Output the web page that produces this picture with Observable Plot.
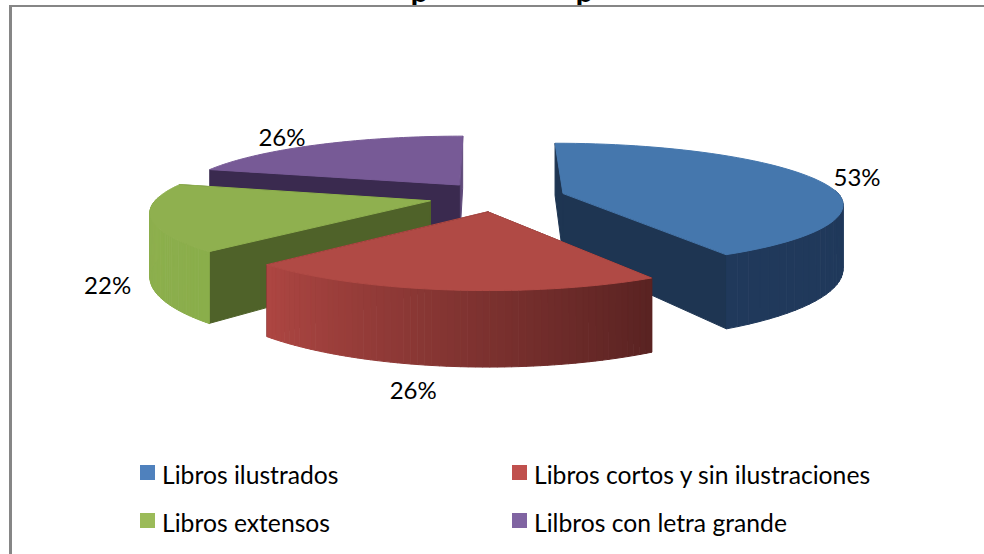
<!DOCTYPE html>
<html><head><meta charset="utf-8">
<script src="https://cdn.jsdelivr.net/npm/d3@7"></script>
<script src="https://cdn.jsdelivr.net/npm/@observablehq/plot@0.6"></script>
<style>
html,body{margin:0;padding:0;background:#fff;width:984px;height:554px;overflow:hidden}
#frame{position:absolute;left:9px;top:5px;right:0;bottom:0;border-left:3px solid #868686;border-top:2px solid #868686;pointer-events:none}
#chart{position:absolute;left:0;top:0}
#chart svg{display:block;background:transparent}
#legend{position:absolute;left:0;top:450px;width:984px;height:104px;font:24.7px Lato,sans-serif;color:#000}
.it{position:absolute;white-space:nowrap;line-height:28px}
.it i{position:absolute;left:-22px;top:4px;width:15px;height:15px}
</style></head><body>
<div id="chart"></div><div id="frame"></div><div id="legend"></div>
<script>
const categories = ["Libros ilustrados","Libros cortos y sin ilustraciones","Libros extensos","Lilbros con letra grande"];
const values = [53,26,22,26];
const topColors = ["#4577ad","#b04a45","#8fb04f","#775a96"];
const startWallColors = ["#1e3552","#5a2322","#4f6229","#3a2a4f"];
const endWallColors = ["#1e3552","#5a2322","#4f6229","#5f4a7a"];
const rimFrom = ["#1f3a5c","#5a2322","#8aae4b","#5f4a7a"];
const rimTo = ["#20395b","#ad4642","#8fb04f","#5f4a7a"];
const legendColors = ["#4f81bd","#c0504d","#9bbb59","#8064a2"];
const swatchKeys = [0,1,2,3];

// projection of the exploded, tilted pie
const W=984,H=450, cx=496, cy=196.5, a=275, b=60, k=0.19, depth=62, explode=0.25;
const vanishX=[513,513,429,480], apexNudge=[0,0,0,4];
const total=d3.sum(values);
let acc=0;
const slices=values.map((v,i)=>{const t0=acc/total*2*Math.PI; acc+=v; const t1=acc/total*2*Math.PI;
  const mid=(t0+t1)/2;
  return {i,t0,t1,mid,ax:cx+a*explode*Math.sin(mid)+apexNudge[i],ay:cy-b*explode*Math.cos(mid),z0:explode*Math.cos(mid)};});
const P=z=>1/(1+k*z);
function proj(s,t,r=1){const z=r*Math.cos(t),p=P(z);
  const tilt=z>0?(s.ax-vanishX[s.i])*(p-1):0;
  return {x:s.ax+a*r*Math.sin(t)*p+tilt, y:s.ay-b*r*Math.cos(t)*P(z+s.z0), d:depth*p, t};}
const pieces=[];let pid=0;
function poly(pts,color){const id=pid++;pts.forEach(q=>pieces.push({id,x:q.x,y:q.y,color}));}
const drop=q=>({x:q.x,y:q.y+q.d});
const apex=s=>({x:s.ax,y:s.ay,d:depth});
const arc=(s,n=60)=>d3.range(n+1).map(i=>proj(s,s.t0+(s.t1-s.t0)*i/n));
function slice(s){
  const rim=arc(s);
  // radial walls first, then the part of the outer wall that faces the viewer
  poly([apex(s),rim[rim.length-1],drop(rim[rim.length-1]),drop(apex(s))],endWallColors[s.i]);
  poly([apex(s),rim[0],drop(rim[0]),drop(apex(s))],startWallColors[s.i]);
  const cm=d3.interpolateRgb(rimFrom[s.i],rimTo[s.i]);
  for(let i=0;i<rim.length-1;i++){
    if(Math.cos(rim[i].t)>0.05||Math.cos(rim[i+1].t)>0.05) continue;
    poly([rim[i],rim[i+1],drop(rim[i+1]),drop(rim[i])],cm(i/(rim.length-2)));
  }
  poly([apex(s),...rim],topColors[s.i]);
}
[3,2,0,1].forEach(i=>slice(slices[i]));

// data labels sit just outside each slice
const labelNudge=[[43,0],[-33,102],[-43,69],[-37,-6]];
const labels=slices.map(s=>{const q=proj(s,s.mid);return {x:q.x+labelNudge[s.i][0],y:q.y+labelNudge[s.i][1],text:values[s.i]+"%"};});

const titleFragments=[{x:410,t:"p"},{x:575,t:"p"}];

const plot=Plot.plot({
  width:W,height:H,margin:0,
  x:{domain:[0,W],range:[0,W],axis:null},
  y:{domain:[0,H],range:[0,H],axis:null},
  color:{type:"identity"},
  marks:[
    Plot.line(pieces,{x:"x",y:"y",z:"id",fill:"color",stroke:"color",strokeWidth:1,curve:"linear-closed"}),
    Plot.text(labels,{x:"x",y:"y",text:"text",fontSize:24,fontFamily:"Lato, sans-serif",fill:"#000"}),
    Plot.text(titleFragments,{x:"x",y:()=>-9,text:"t",textAnchor:"start",fontSize:32,fontWeight:"bold",fontFamily:"Lato, sans-serif",fill:"#000"})
  ]
});
plot.style.overflow="hidden";
document.getElementById("chart").append(plot);

const pos=[[162,11],[534,11],[162,59],[534,59]];
const lg=document.getElementById("legend");
swatchKeys.forEach(i=>{const d=document.createElement("div");d.className="it";
  d.style.left=pos[i][0]+"px";d.style.top=pos[i][1]+"px";
  const sw=document.createElement("i");sw.style.background=legendColors[i];d.append(sw,categories[i]);lg.append(d);});
</script></body></html>
